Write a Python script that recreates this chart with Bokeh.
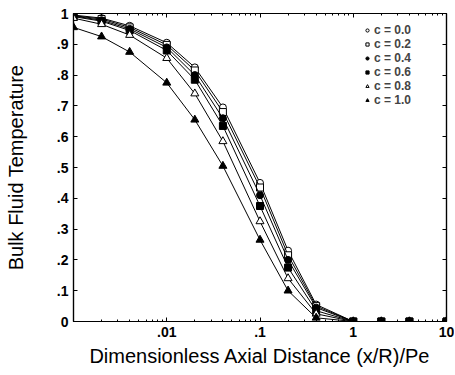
from bokeh.plotting import figure
from bokeh.models import FixedTicker, LinearAxis, LogAxis, Range1d, Legend, LegendItem
from bokeh.embed import file_html
from bokeh.resources import INLINE

x_vals = [0.001, 0.002, 0.004, 0.01, 0.02, 0.04, 0.1, 0.2, 0.4, 1, 2, 4, 10]
c00 = [0.995, 0.985, 0.960, 0.905, 0.825, 0.695, 0.450, 0.230, 0.055, 0, 0, 0, 0]
c02 = [0.993, 0.982, 0.955, 0.898, 0.815, 0.680, 0.435, 0.215, 0.050, 0, 0, 0, 0]
c04 = [0.992, 0.978, 0.950, 0.890, 0.800, 0.660, 0.410, 0.200, 0.045, 0, 0, 0, 0]
c06 = [0.990, 0.975, 0.945, 0.880, 0.785, 0.635, 0.375, 0.175, 0.035, 0, 0, 0, 0]
c08 = [0.985, 0.965, 0.930, 0.855, 0.740, 0.585, 0.325, 0.140, 0.025, 0, 0, 0, 0]
c10 = [0.955, 0.925, 0.875, 0.775, 0.655, 0.505, 0.265, 0.100, 0.012, 0, 0, 0, 0]
labels = ["c = 0.0", "c = 0.2", "c = 0.4", "c = 0.6", "c = 0.8", "c = 1.0"]
x_ticks = [0.01, 0.1, 1, 10]
x_tick_labels = [".01", ".1", "1", "10"]
y_ticks = [0, 0.1, 0.2, 0.3, 0.4, 0.5, 0.6, 0.7, 0.8, 0.9, 1]
y_tick_labels = ["0", ".1", ".2", ".3", ".4", ".5", ".6", ".7", ".8", ".9", "1"]

series = [c00, c02, c04, c06, c08, c10]
markers = ["circle", "square", "circle", "square", "triangle", "triangle"]
filled = [False, False, True, True, False, True]

FONT = "Liberation Sans"

p = figure(x_axis_type="log", output_backend="svg", toolbar_location=None,
           frame_width=373, frame_height=308,
           min_border_left=73, min_border_right=8, min_border_top=13, min_border_bottom=50,
           x_range=Range1d(0.001, 10), y_range=Range1d(0, 1))
p.grid.visible = False
p.outline_line_color = "black"
p.outline_line_width = 1.2
p.background_fill_color = "white"
p.border_fill_color = "white"

minor_x = []
for d in [0.001, 0.01, 0.1, 1]:
    for k in range(2, 10):
        minor_x.append(d * k)

xa = p.xaxis[0]
xa.ticker = FixedTicker(ticks=x_ticks, minor_ticks=minor_x)
xa.major_label_overrides = {t: l for t, l in zip(x_ticks, x_tick_labels)}
xa.axis_label = "Dimensionless Axial Distance (x/R)/Pe"
ya = p.yaxis[0]
ya.ticker = FixedTicker(ticks=y_ticks, minor_ticks=[])
ya.major_label_overrides = {t: l for t, l in zip(y_ticks, y_tick_labels)}
ya.axis_label = "Bulk Fluid Temperature"

for ax in [xa, ya]:
    ax.major_tick_in = 4
    ax.major_tick_out = 0
    ax.minor_tick_in = 2
    ax.minor_tick_out = 0
    ax.axis_line_width = 1.2
    ax.major_label_text_font = FONT
    ax.major_label_text_font_size = "14px"
    ax.major_label_text_font_style = "bold"
    ax.major_label_text_color = "black"
    ax.axis_label_text_font = FONT
    ax.axis_label_text_font_size = "20px"
    ax.axis_label_text_font_style = "normal"
    ax.axis_label_text_color = "black"
xa.major_label_standoff = 5
xa.axis_label_standoff = 5
ya.major_label_standoff = 5
ya.axis_label_standoff = 27

# mirrored axes (ticks only)
top = LogAxis(ticker=FixedTicker(ticks=x_ticks, minor_ticks=minor_x),
              major_label_text_color=None, major_tick_in=4, major_tick_out=0,
              minor_tick_in=2, minor_tick_out=0, axis_line_width=1.2,
              major_label_standoff=0)
right = LinearAxis(ticker=FixedTicker(ticks=y_ticks, minor_ticks=[]),
                   major_label_text_color=None, major_tick_in=4, major_tick_out=0,
                   minor_tick_out=0, axis_line_width=1.2, major_label_standoff=0)
p.add_layout(top, "above")
p.add_layout(right, "right")

items = []
for ys, mk, fl, lab in zip(series, markers, filled, labels):
    p.line(x_vals, ys, line_color="black", line_width=1)
    r = p.scatter(x_vals, ys, marker=mk, size=7 if mk != "triangle" else 8,
                  line_color="black", line_width=1,
                  fill_color="black" if fl else "white")
    items.append(LegendItem(label=lab, renderers=[r]))

legend = Legend(items=items, location=(290, 214), border_line_alpha=0,
                background_fill_alpha=0, label_text_font=FONT,
                label_text_font_size="12px", label_text_font_style="bold",
                label_height=12, glyph_height=12, glyph_width=8, spacing=0,
                label_standoff=3, padding=0, margin=0)
p.add_layout(legend)

open("out.html", "w").write(file_html(p, INLINE))
